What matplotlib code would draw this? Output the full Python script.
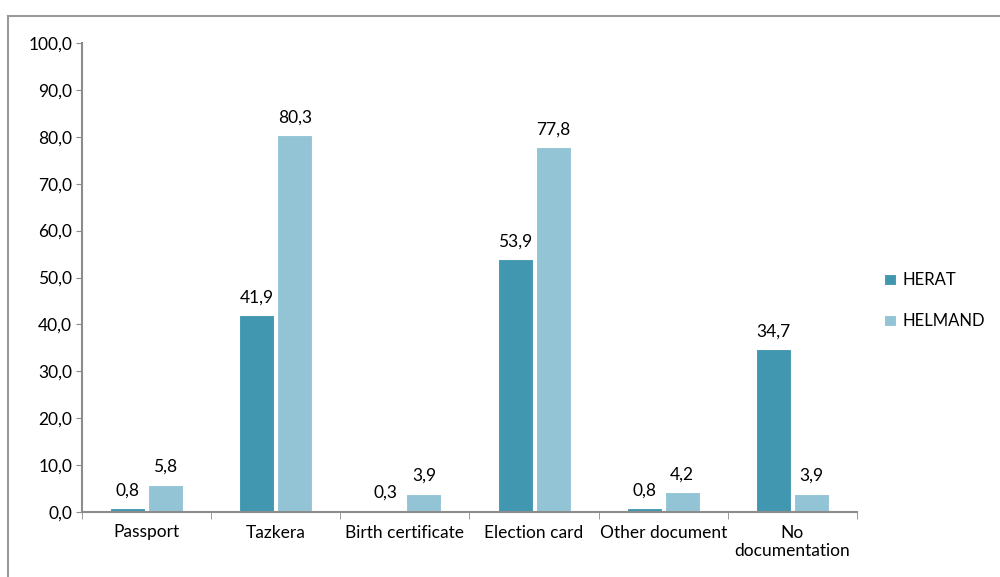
import matplotlib
matplotlib.use("Agg")
import matplotlib.pyplot as plt
from matplotlib.lines import Line2D
import numpy as np

categories = ["Passport", "Tazkera", "Birth certificate", "Election card",
              "Other document", "No\ndocumentation"]
herat = [0.8, 41.9, 0.3, 53.9, 0.8, 34.7]
helmand = [5.8, 80.3, 3.9, 77.8, 4.2, 3.9]
series_names = ["HERAT", "HELMAND"]
yticks = [0, 10, 20, 30, 40, 50, 60, 70, 80, 90, 100]

plt.rcParams['font.family'] = ['Lato', 'DejaVu Sans']
c_herat = "#4297B0"
c_helm = "#93C4D6"
axis_c = "#8C8C8C"
FS = 12.5

fig = plt.figure(figsize=(10, 5.77), dpi=100)
ax = fig.add_axes([0.082, 1 - 512 / 577, 0.775, (512 - 43) / 577])

x = np.arange(len(categories))
w = 0.27
gap = 0.012
b1 = ax.bar(x - w / 2 - gap, herat, w, color=c_herat, edgecolor="white", linewidth=0.8)
b2 = ax.bar(x + w / 2 + gap, helmand, w, color=c_helm, edgecolor="white", linewidth=0.8)

def fmt(v):
    return f"{v:.1f}".replace(".", ",")

for bars, vals in ((b1, herat), (b2, helmand)):
    for r, v in zip(bars, vals):
        ax.annotate(fmt(v), (r.get_x() + r.get_width() / 2, v),
                    xytext=(0, 7), textcoords="offset points",
                    ha="center", va="bottom", fontsize=FS)

ax.set_xlim(-0.5, len(categories) - 0.5)
ax.set_ylim(0, 100)
ax.set_yticks(yticks)
ax.set_yticklabels([fmt(v) for v in yticks], fontsize=FS)
ax.set_xticks(x)
ax.set_xticklabels(categories, fontsize=FS, linespacing=1.2)
ax.tick_params(axis="x", length=0, pad=9)
ax.set_xticks(np.arange(len(categories) + 1) - 0.5, minor=True)
ax.tick_params(axis="x", which="minor", length=5, color=axis_c, direction="out")
ax.tick_params(axis="y", length=4, color=axis_c, pad=3)

for s in ("top", "right"):
    ax.spines[s].set_visible(False)
for s in ("left", "bottom"):
    ax.spines[s].set_color(axis_c)
    ax.spines[s].set_linewidth(1.5)

# legend
ax.legend([b1, b2], series_names, loc="center left",
          bbox_to_anchor=(1.02, 0.45), frameon=False, fontsize=12,
          handlelength=0.7, handleheight=0.7, labelspacing=1.5,
          handletextpad=0.4, borderpad=0.2)

# outer frame
fig.add_artist(Line2D([8 / 1000, 8 / 1000], [0, 1 - 16 / 577],
                      transform=fig.transFigure, color="#9A9A9A", lw=1.5))
fig.add_artist(Line2D([8 / 1000, 1], [1 - 16 / 577, 1 - 16 / 577],
                      transform=fig.transFigure, color="#9A9A9A", lw=1.5))

fig.savefig("out.png", dpi=100)
